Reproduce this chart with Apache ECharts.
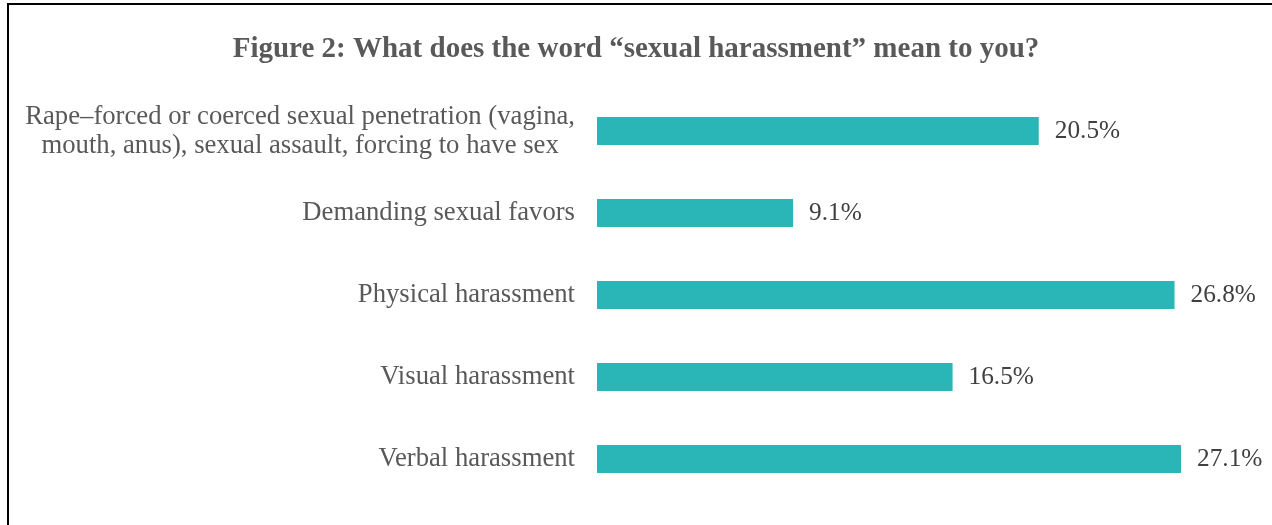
<!DOCTYPE html>
<html>
<head>
<meta charset="utf-8">
<script src="https://cdn.jsdelivr.net/npm/echarts@6/dist/echarts.min.js"></script>
<style>
  html, body { margin: 0; padding: 0; background: #ffffff; }
  #chart { width: 1272px; height: 525px; }
</style>
</head>
<body>
<div id="chart"></div>
<script>
// Survey responses, top to bottom
const categories = [
  'Rape–forced or coerced sexual penetration (vagina,\nmouth, anus), sexual assault, forcing to have sex',
  'Demanding sexual favors',
  'Physical harassment',
  'Visual harassment',
  'Verbal harassment'
];
const percentages = [20.5, 9.1, 26.8, 16.5, 27.1];
const titleText = 'Figure 2: What does the word \u201csexual harassment\u201d mean to you?';

const serif = '"Liberation Serif", "Times New Roman", serif';
const labelFont = { fontFamily: serif, fontSize: 26.7, color: '#595959' };

const chart = echarts.init(document.getElementById('chart'), null, { renderer: 'canvas' });
chart.setOption({
  backgroundColor: '#ffffff',
  animation: false,
  title: {
    text: titleText,
    left: 'center',
    top: 30,
    textStyle: { fontFamily: serif, fontSize: 29, fontWeight: 'bold', color: '#595959' }
  },
  // frame lines along the top and left edges
  graphic: [
    { type: 'line', shape: { x1: 7, y1: 4, x2: 1272, y2: 4 }, style: { stroke: '#000', lineWidth: 2 } },
    { type: 'line', shape: { x1: 8, y1: 3, x2: 8, y2: 525 }, style: { stroke: '#000', lineWidth: 2 } }
  ],
  grid: { left: 597, right: 28.5, top: 90, bottom: 25, containLabel: false },
  xAxis: {
    type: 'value',
    min: 0,
    max: 30,
    show: false
  },
  yAxis: {
    type: 'category',
    inverse: true,
    data: categories,
    axisLine: { show: false },
    axisTick: { show: false },
    axisLabel: {
      margin: 22,
      ...labelFont,
      lineHeight: 29,
      align: 'right',
      // multi-line labels: lines centred within the block, block right-aligned
      formatter: v => v.indexOf('\n') >= 0
        ? v.split('\n').map(s => '{c|' + s + '}').join('\n')
        : v,
      rich: {
        c: { ...labelFont, lineHeight: 29, align: 'center' }
      }
    }
  },
  series: [{
    type: 'bar',
    data: percentages,
    barWidth: 28,
    itemStyle: { color: '#2AB5B7' },
    label: {
      show: true,
      position: 'right',
      distance: 16,
      fontFamily: serif,
      fontSize: 25.3,
      color: '#404040',
      formatter: p => p.value.toFixed(1) + '%'
    }
  }]
});
</script>
</body>
</html>
